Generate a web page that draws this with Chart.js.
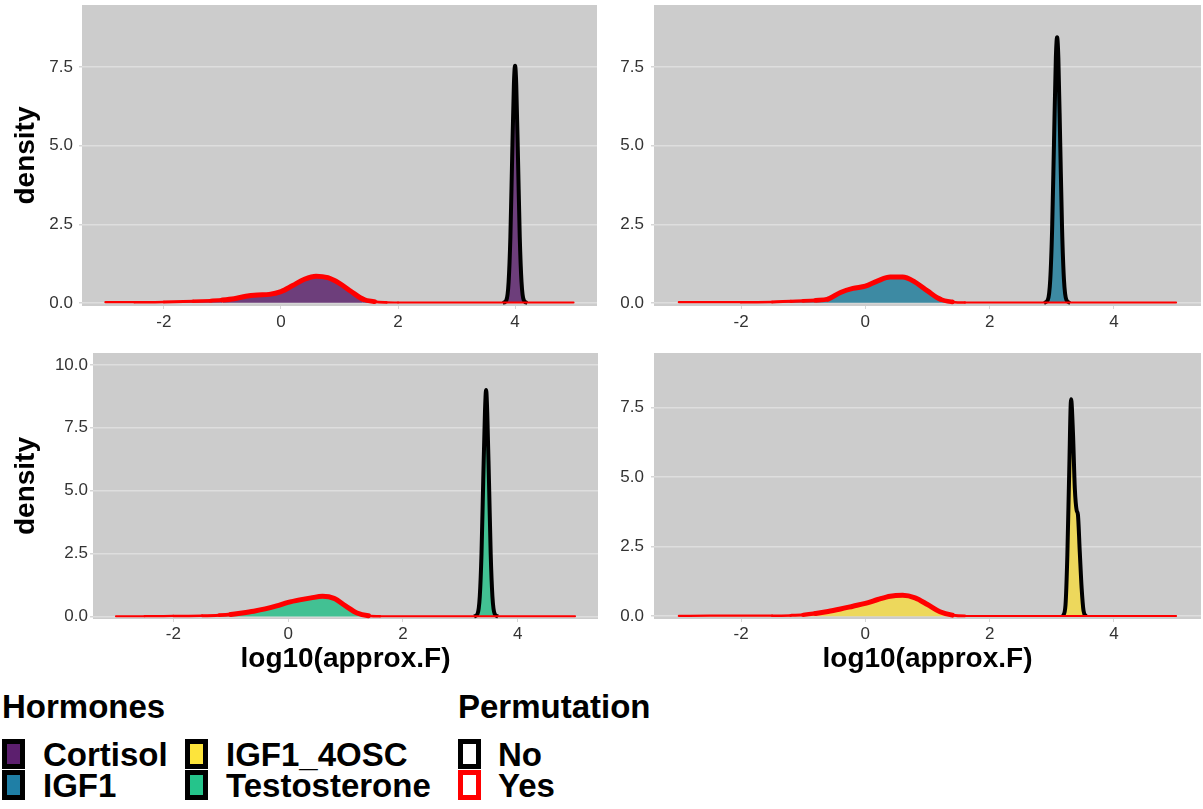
<!DOCTYPE html>
<html>
<head>
<meta charset="utf-8">
<script src="https://cdn.jsdelivr.net/npm/chart.js@4.4.1/dist/chart.umd.min.js"></script>
<style>
  body { margin: 0; background: #fff; width: 1203px; height: 809px; overflow: hidden; position: relative;
         font-family: "Liberation Sans", Arial, sans-serif; }
  canvas { position: absolute; }
  .lg { position: absolute; font-weight: bold; font-size: 33px; line-height: 32px; color: #000; white-space: nowrap; }
  .key { position: absolute; width: 13px; height: 20px; border: 5px solid #000; }
</style>
</head>
<body>
<canvas id="tl" width="600" height="340" style="left:0;top:0"></canvas>
<canvas id="tr" width="603" height="340" style="left:600px;top:0"></canvas>
<canvas id="bl" width="600" height="340" style="left:0;top:340px"></canvas>
<canvas id="br" width="603" height="340" style="left:600px;top:340px"></canvas>

<div class="lg" style="left:2px;top:691px">Hormones</div>
<div class="lg" style="left:458px;top:691px">Permutation</div>

<div class="key" style="left:2px;top:739px;background:#5C1F6E"></div>
<div class="lg" style="left:43px;top:739px">Cortisol</div>
<div class="key" style="left:2px;top:770px;background:#1F7FA6"></div>
<div class="lg" style="left:43px;top:770px">IGF1</div>
<div class="key" style="left:185px;top:739px;background:#FDE43B"></div>
<div class="lg" style="left:226px;top:739px">IGF1_4OSC</div>
<div class="key" style="left:185px;top:770px;background:#25C48B"></div>
<div class="lg" style="left:226px;top:770px">Testosterone</div>

<div class="key" style="left:458px;top:739px;background:#fff"></div>
<div class="lg" style="left:498px;top:739px">No</div>
<div class="key" style="left:458px;top:770px;background:#fff;border-color:#FF0000"></div>
<div class="lg" style="left:498px;top:770px">Yes</div>

<script>
// Tick labels
const xTicks = [-2, 0, 2, 4];
const yTicks = [0, 2.5, 5, 7.5];
const yTicksTesto = [0, 2.5, 5, 7.5, 10];

// Permuted (Yes) densities, shared x grid
const xYes = [-3, -2.5, -2, -1.5, -1.2, -1, -0.8, -0.6, -0.4, -0.2, 0, 0.2, 0.4, 0.6, 0.8, 1, 1.2, 1.4, 1.6, 1.8, 2, 2.5, 3, 3.5, 4, 4.5, 5];
const cortisolYes = [0.02, 0.02, 0.03, 0.05, 0.07, 0.09, 0.13, 0.21, 0.25, 0.27, 0.36, 0.55, 0.75, 0.85, 0.8, 0.62, 0.36, 0.12, 0.04, 0.015, 0.01, 0.01, 0.01, 0.01, 0.01, 0.01, 0.01];
const igf1Yes = [0.02, 0.02, 0.02, 0.03, 0.05, 0.06, 0.08, 0.12, 0.33, 0.46, 0.53, 0.7, 0.82, 0.82, 0.66, 0.38, 0.12, 0.03, 0.01, 0.01, 0.01, 0.01, 0.01, 0.01, 0.01, 0.01, 0.01];
const testosteroneYes = [0.01, 0.01, 0.02, 0.03, 0.05, 0.08, 0.14, 0.21, 0.3, 0.42, 0.56, 0.66, 0.74, 0.8, 0.72, 0.42, 0.14, 0.03, 0.01, 0.01, 0.01, 0.01, 0.01, 0.01, 0.01, 0.01, 0.01];
const igf4oscYes = [0.01, 0.02, 0.02, 0.02, 0.03, 0.05, 0.1, 0.17, 0.26, 0.36, 0.46, 0.6, 0.72, 0.75, 0.66, 0.42, 0.16, 0.04, 0.01, 0.01, 0.01, 0.01, 0.01, 0.01, 0.01, 0.01, 0.01];

// Observed (No) densities, narrow spikes
const cortisolNoX = [3.79, 3.85, 3.89, 3.92, 3.95, 3.98, 4.0, 4.02, 4.05, 4.08, 4.11, 4.15, 4.21];
const cortisolNo = [0, 0.08, 0.67, 2.1, 4.6, 6.95, 7.55, 6.95, 4.6, 2.1, 0.67, 0.08, 0];
const igf1NoX = [2.875, 2.935, 2.975, 3.005, 3.035, 3.065, 3.085, 3.105, 3.135, 3.165, 3.195, 3.235, 3.295];
const igf1No = [0, 0.09, 0.75, 2.35, 5.1, 7.8, 8.45, 7.8, 5.1, 2.35, 0.75, 0.09, 0];
const testosteroneNoX = [3.24, 3.3, 3.34, 3.37, 3.4, 3.43, 3.45, 3.47, 3.5, 3.53, 3.56, 3.6, 3.66];
const testosteroneNo = [0, 0.1, 0.8, 2.5, 5.4, 8.1, 9.0, 8.1, 5.4, 2.5, 0.8, 0.1, 0];
const igf4oscNoX = [3.18, 3.22, 3.25, 3.28, 3.31, 3.34, 3.37, 3.4, 3.42, 3.45, 3.48, 3.51, 3.55];
const igf4oscNo = [0, 0.4, 2.2, 5.2, 7.8, 6.6, 4.6, 3.8, 3.65, 2.3, 1.0, 0.2, 0];

const FONT = '"Liberation Sans", Arial, sans-serif';
Chart.defaults.font.family = FONT;

const panelBg = {
    id: 'panelBg',
    beforeDraw(chart) {
        const { ctx, chartArea: a } = chart;
        ctx.save();
        ctx.fillStyle = '#CCCCCC';
        ctx.fillRect(a.left, a.top, a.right - a.left, a.bottom - a.top);
        ctx.restore();
    }
};

function pts(xs, ys) {
    return xs.map((x, i) => ({ x: x, y: ys[i] }));
}

// red outline looks thinner where it hugs the baseline
function redWidth(ctx) {
    const h = Math.max(ctx.p0.parsed.y, ctx.p1.parsed.y);
    return 2 + 3 * Math.min(1, Math.max(0, h - 0.01) / 0.12);
}

function makePanel(cfg) {
    new Chart(document.getElementById(cfg.id), {
        type: 'line',
        data: {
            datasets: [{
                label: 'Yes',
                data: pts(xYes, cfg.yes),
                borderColor: '#FF0000',
                backgroundColor: cfg.fill,
                fill: 'origin',
                borderWidth: 5,
                segment: { borderWidth: redWidth },
                pointRadius: 0,
                cubicInterpolationMode: 'monotone',
                borderJoinStyle: 'round',
                borderCapStyle: 'round'
            }, {
                label: 'No',
                data: pts(cfg.noX, cfg.no),
                borderColor: '#000000',
                backgroundColor: cfg.fill,
                fill: 'origin',
                borderWidth: 4,
                pointRadius: 0,
                cubicInterpolationMode: 'monotone',
                borderJoinStyle: 'round'
            }]
        },
        options: {
            responsive: false,
            animation: false,
            devicePixelRatio: 1,
            layout: { padding: { top: cfg.padTop, right: cfg.padRight, left: 0, bottom: 0 } },
            plugins: { legend: { display: false }, tooltip: { enabled: false } },
            scales: {
                x: {
                    type: 'linear',
                    min: -3.4,
                    max: 5.4,
                    afterBuildTicks: s => { s.ticks = xTicks.map(v => ({ value: v })); },
                    afterFit: s => { s.height = cfg.xHeight; s.paddingLeft = 0; s.paddingRight = 0; },
                    grid: { drawOnChartArea: false, tickColor: '#d6d6d6', tickLength: 3 },
                    border: { display: false },
                    ticks: { font: { size: 17 }, color: '#333333', padding: cfg.xPad, maxRotation: 0, autoSkip: false },
                    title: {
                        display: cfg.xTitle,
                        text: 'log10(approx.F)',
                        color: '#000',
                        font: { size: 28, weight: 'bold' },
                        padding: { top: 0, bottom: 4 }
                    }
                },
                y: {
                    min: cfg.ymin,
                    max: cfg.ymax,
                    afterBuildTicks: s => { s.ticks = cfg.yTicks.map(v => ({ value: v })); },
                    afterFit: s => { s.width = cfg.yWidth; s.paddingTop = 0; s.paddingBottom = 0; },
                    grid: { color: '#DEDEDE', lineWidth: 1.5, tickColor: '#d6d6d6', tickLength: 3 },
                    border: { display: false },
                    ticks: {
                        font: { size: 17 },
                        color: '#333333',
                        padding: cfg.yPad,
                        callback: v => v.toFixed(1)
                    },
                    title: {
                        display: cfg.yTitle,
                        text: 'density',
                        color: '#000',
                        font: { size: 28, weight: 'bold' },
                        padding: { top: 9, bottom: 0 }
                    }
                }
            }
        },
        plugins: [panelBg]
    });
}

makePanel({ id: 'tl', yes: cortisolYes, noX: cortisolNoX, no: cortisolNo, fill: '#6D3E7B',
    padTop: 5, padRight: 3, yWidth: 82, xHeight: 34, ymin: -0.1, ymax: 9.48, yTicks: yTicks,
    yTitle: true, xTitle: false, yPad: 6, xPad: 3 });
makePanel({ id: 'tr', yes: igf1Yes, noX: igf1NoX, no: igf1No, fill: '#3D8AA3',
    padTop: 5, padRight: 2, yWidth: 54, xHeight: 34, ymin: -0.1, ymax: 9.48, yTicks: yTicks,
    yTitle: false, xTitle: false, yPad: 7, xPad: 3 });
makePanel({ id: 'bl', yes: testosteroneYes, noX: testosteroneNoX, no: testosteroneNo, fill: '#42C193',
    padTop: 13, padRight: 2, yWidth: 93, xHeight: 61, ymin: -0.1, ymax: 10.47, yTicks: yTicksTesto,
    yTitle: true, xTitle: true, yPad: 2, xPad: 2 });
makePanel({ id: 'br', yes: igf4oscYes, noX: igf4oscNoX, no: igf4oscNo, fill: '#EDD85C',
    padTop: 13, padRight: 2, yWidth: 54, xHeight: 61, ymin: -0.1, ymax: 9.46, yTicks: yTicks,
    yTitle: false, xTitle: true, yPad: 7, xPad: 2 });
</script>
</body>
</html>
